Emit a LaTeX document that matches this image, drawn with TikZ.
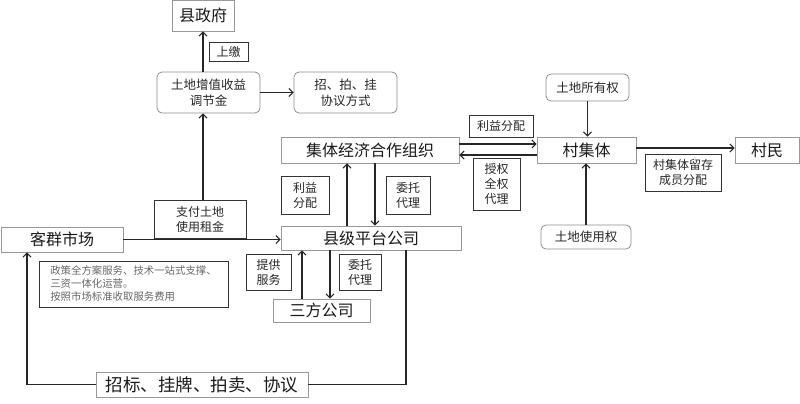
\documentclass[tikz,border=0pt]{standalone}
\usepackage{fontspec}
\setmainfont{Noto Sans CJK SC}
\usetikzlibrary{arrows.meta}
\tikzset{
  bigbox/.style={draw=black!40, line width=0.8pt, inner sep=0pt, font=\fontsize{16}{18}\selectfont, text=black!90},
  labbox/.style={draw=black!80, line width=0.8pt, inner sep=0pt, align=center, font=\fontsize{12}{15}\selectfont, text=black!85},
  roundbox/.style={draw=black!45, line width=0.8pt, rounded corners=5pt, inner sep=0pt, align=center, font=\fontsize{12.5}{16}\selectfont, text=black!85},
  flow/.style={->, line width=1.1pt, black!85}
}
\begin{document}
\begin{tikzpicture}[x=1pt,y=-1pt,>={Straight Barb[length=4pt,width=8pt]}]
\useasboundingbox (0,0) rectangle (800,404);

\node[bigbox, minimum width=62pt, minimum height=31pt] (gov) at (203,15.5) {县政府};
\node[labbox, minimum width=39pt, minimum height=19pt] (shangjiao) at (228.5,51.5) {上缴};
\node[roundbox, minimum width=103pt, minimum height=41pt] (fund) at (208.5,92.5) {土地增值收益\\调节金};
\node[roundbox, minimum width=103pt, minimum height=41pt] (bid) at (345.5,92.5) {招、拍、挂\\协议方式};

\node[bigbox, minimum width=178pt, minimum height=26pt] (org) at (370,150) {集体经济合作组织};
\node[labbox, minimum width=48pt, minimum height=38pt] (lyfpA) at (305,195) {利益\\分配};
\node[labbox, minimum width=44pt, minimum height=38pt] (wtdlA) at (408,195) {委托\\代理};

\node[bigbox, minimum width=99pt, minimum height=26pt] (vil) at (586.5,150) {村集体};
\node[labbox, minimum width=64pt, minimum height=22pt] (lyfpB) at (501,126) {利益分配};
\node[labbox, minimum width=47pt, minimum height=52pt] (shouquan) at (496.5,184) {授权\\全权\\代理};
\node[roundbox, minimum width=83pt, minimum height=27pt] (own) at (587.5,87.5) {土地所有权};
\node[roundbox, minimum width=90pt, minimum height=24pt] (use) at (586,237) {土地使用权};
\node[bigbox, minimum width=64pt, minimum height=26pt] (cunmin) at (767,150) {村民};
\node[labbox, minimum width=76pt, minimum height=37pt] (keep) at (683,172.5) {村集体留存\\成员分配};

\node[bigbox, minimum width=122pt, minimum height=25pt] (mkt) at (62,239.5) {客群市场};
\node[bigbox, minimum width=180pt, minimum height=24pt] (plat) at (371,238) {县级平台公司};
\node[labbox, minimum width=92pt, minimum height=38pt, fill=white] (pay) at (200,219) {支付土地\\使用租金};
\node[labbox, minimum width=189pt, minimum height=46pt, align=left, text=black!60,
  font=\fontsize{10.4}{13}\selectfont] (policy) at (133.5,284)
  {政策全方案服务、技术一站式支撑、\\三资一体化运营。\\按照市场标准收取服务费用};
\node[labbox, minimum width=45pt, minimum height=36pt] (tigong) at (268.5,272) {提供\\服务};
\node[labbox, minimum width=42pt, minimum height=36pt] (wtdlB) at (360,272) {委托\\代理};
\node[bigbox, minimum width=97pt, minimum height=23pt] (third) at (321.5,310.5) {三方公司};
\node[bigbox, minimum width=212pt, minimum height=25pt, font=\fontsize{17.5}{19}\selectfont] (ways) at (202,384.5) {招标、挂牌、拍卖、协议};

\draw[flow] (fund.north -| gov) -- (gov.south);
\draw[flow] (fund.east) -- (bid.west);
\draw[flow] (pay.north -| gov) -- (fund.south -| gov);
\draw[flow] (mkt.east) -- (mkt.east -| plat.west);
\draw[flow] ([xshift=-24pt]plat.north) -- ([xshift=-24pt]plat.north |- org.south);
\draw[flow] ([xshift=5pt]org.south) -- ([xshift=5pt]org.south |- plat.north);
\draw[flow] ([yshift=6pt]org.east) -- ([yshift=6pt]vil.west);
\draw[flow] ([yshift=-5pt]vil.west) -- ([yshift=-5pt]org.east);
\draw[flow] (own.south) -- (own.south |- vil.north);
\draw[flow] (use.north) -- (use.north |- vil.south);
\draw[flow] ([yshift=2pt]vil.east) -- ([yshift=2pt]cunmin.west);
\draw[flow] ([xshift=-19.5pt]third.north) -- ([xshift=-19.5pt]third.north |- plat.south);
\draw[flow] ([xshift=8.5pt]plat.south -| third) -- ([xshift=8.5pt]third.north);
\draw[line width=1.1pt, black!85] ([xshift=35pt]plat.south) |- (ways.east);
\draw[flow] (ways.west) -| ([xshift=-35pt]mkt.south);
\end{tikzpicture}
\end{document}
